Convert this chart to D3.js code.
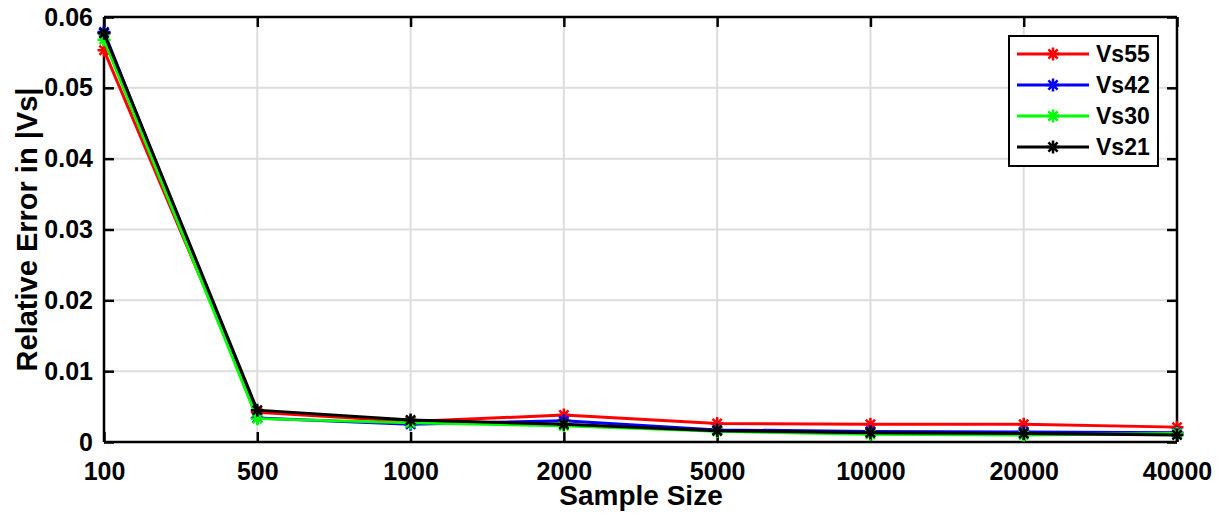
<!DOCTYPE html>
<html>
<head>
<meta charset="utf-8">
<script src="https://cdn.jsdelivr.net/npm/d3@7"></script>
<style>
  html, body { margin: 0; padding: 0; background: #fff; }
  svg { display: block; font-family: "Liberation Sans", Arial, Helvetica, sans-serif; font-weight: bold; }
</style>
</head>
<body>
<svg id="chart" width="1221" height="517"></svg>
<script>
// Sample sizes (categorical x axis)
const sampleSizes = ["100", "500", "1000", "2000", "5000", "10000", "20000", "40000"];

// Relative error in |Vs| for each profile
const vs55 = [0.0553, 0.0042, 0.0029, 0.0038, 0.0026, 0.0025, 0.0025, 0.0021];
const vs42 = [0.0579, 0.0034, 0.0025, 0.0030, 0.0017, 0.0015, 0.0014, 0.0013];
const vs30 = [0.0568, 0.0033, 0.0027, 0.0023, 0.0015, 0.0011, 0.0010, 0.0012];
const vs21 = [0.0577, 0.0045, 0.0031, 0.0025, 0.0016, 0.0013, 0.0012, 0.0010];

const yTicks = [0, 0.01, 0.02, 0.03, 0.04, 0.05, 0.06];
const seriesNames = ["Vs55", "Vs42", "Vs30", "Vs21"];
const seriesColors = ["#ff0000", "#0000ff", "#00ff00", "#000000"];
const seriesValues = [vs55, vs42, vs30, vs21];

const svg = d3.select("#chart");
const plotLeft = 104, plotRight = 1177, plotTop = 17, plotBottom = 442;

const x = d3.scalePoint().domain(sampleSizes).range([plotLeft, plotRight]);
const y = d3.scaleLinear().domain([0, 0.06]).range([plotBottom, plotTop]);

// Grid lines
const grid = svg.append("g");
grid.selectAll("line.vx").data(sampleSizes).join("line")
  .attr("class", "vx")
  .attr("x1", d => x(d)).attr("x2", d => x(d))
  .attr("y1", plotTop).attr("y2", plotBottom)
  .attr("stroke", "#dddddd").attr("stroke-width", 2);
grid.selectAll("line.hy").data(yTicks).join("line")
  .attr("class", "hy")
  .attr("x1", plotLeft).attr("x2", plotRight)
  .attr("y1", d => y(d)).attr("y2", d => y(d))
  .attr("stroke", "#dddddd").attr("stroke-width", 2);

// Axes (ticks pointing inward, box on all sides)
const tickLen = 10;
const xAxisB = d3.axisBottom(x).tickSize(-tickLen).tickPadding(20);
const yAxisL = d3.axisLeft(y).tickValues(yTicks).tickSize(-tickLen).tickPadding(11)
  .tickFormat(d => d === 0 ? "0" : d3.format(".2f")(d));
const xAxisT = d3.axisTop(x).tickSize(-tickLen).tickFormat("");
const yAxisR = d3.axisRight(y).tickValues(yTicks).tickSize(-tickLen).tickFormat("");

function styleAxis(g) {
  g.selectAll("path.domain").attr("stroke", "#000").attr("stroke-width", 2.5);
  g.selectAll(".tick line").attr("stroke", "#000").attr("stroke-width", 2.5);
  g.selectAll(".tick text").attr("fill", "#000").style("font-size", "25px").style("font-weight", "bold")
    .style("font-family", '"Liberation Sans", Arial, sans-serif');
}

svg.append("g").attr("transform", `translate(0,${plotBottom})`).call(xAxisB).call(styleAxis)
  .call(g => g.selectAll("path.domain").attr("d", `M${plotLeft},0H${plotRight}`));
svg.append("g").attr("transform", `translate(${plotLeft},0)`).call(yAxisL).call(styleAxis)
  .call(g => g.selectAll("path.domain").attr("d", `M0,${plotBottom}V${plotTop}`));
svg.append("g").attr("transform", `translate(0,${plotTop})`).call(xAxisT).call(styleAxis)
  .call(g => g.selectAll("path.domain").attr("d", `M${plotLeft},0H${plotRight}`));
svg.append("g").attr("transform", `translate(${plotRight},0)`).call(yAxisR).call(styleAxis)
  .call(g => g.selectAll("path.domain").attr("d", `M0,${plotBottom}V${plotTop}`));

// Asterisk marker path
function asterisk(r) {
  const d = r * Math.SQRT1_2;
  return `M${-r},0H${r}M0,${-r}V${r}M${-d},${-d}L${d},${d}M${-d},${d}L${d},${-d}`;
}

// Series lines and markers
const line = d3.line().x((d, i) => x(sampleSizes[i])).y(d => y(d));
seriesValues.forEach((vals, k) => {
  const g = svg.append("g");
  g.append("path").datum(vals)
    .attr("d", line)
    .attr("fill", "none")
    .attr("stroke", seriesColors[k])
    .attr("stroke-width", 3)
    .attr("stroke-linejoin", "round");
  g.selectAll("path.m").data(vals).join("path")
    .attr("class", "m")
    .attr("transform", (d, i) => `translate(${x(sampleSizes[i])},${y(d)})`)
    .attr("d", asterisk(6.5))
    .attr("stroke", seriesColors[k])
    .attr("stroke-width", 2.5)
    .attr("fill", "none");
});

// Axis titles
svg.append("text")
  .attr("x", (plotLeft + plotRight) / 2 + 0.5).attr("y", 505)
  .attr("text-anchor", "middle")
  .style("font-size", "28px")
  .text("Sample Size");

svg.append("text")
  .attr("transform", `translate(37,${(plotTop + plotBottom) / 2}) rotate(-90)`)
  .attr("text-anchor", "middle")
  .style("font-size", "29px")
  .text("Relative Error in |Vs|");

// Legend
const legend = svg.append("g");
legend.append("rect")
  .attr("x", 1009).attr("y", 36).attr("width", 149).attr("height", 130)
  .attr("fill", "#fff").attr("stroke", "#000").attr("stroke-width", 2);
const rowY = d3.scalePoint().domain(seriesNames).range([54, 147]);
seriesNames.forEach((name, k) => {
  const cy = rowY(name);
  legend.append("line")
    .attr("x1", 1017).attr("x2", 1089).attr("y1", cy).attr("y2", cy)
    .attr("stroke", seriesColors[k]).attr("stroke-width", 3);
  legend.append("path")
    .attr("transform", `translate(1053,${cy})`)
    .attr("d", asterisk(6.5))
    .attr("stroke", seriesColors[k]).attr("stroke-width", 2.5).attr("fill", "none");
  legend.append("text")
    .attr("x", 1096).attr("y", cy).attr("dy", "0.36em")
    .style("font-size", "23px")
    .text(name);
});
</script>
</body>
</html>
